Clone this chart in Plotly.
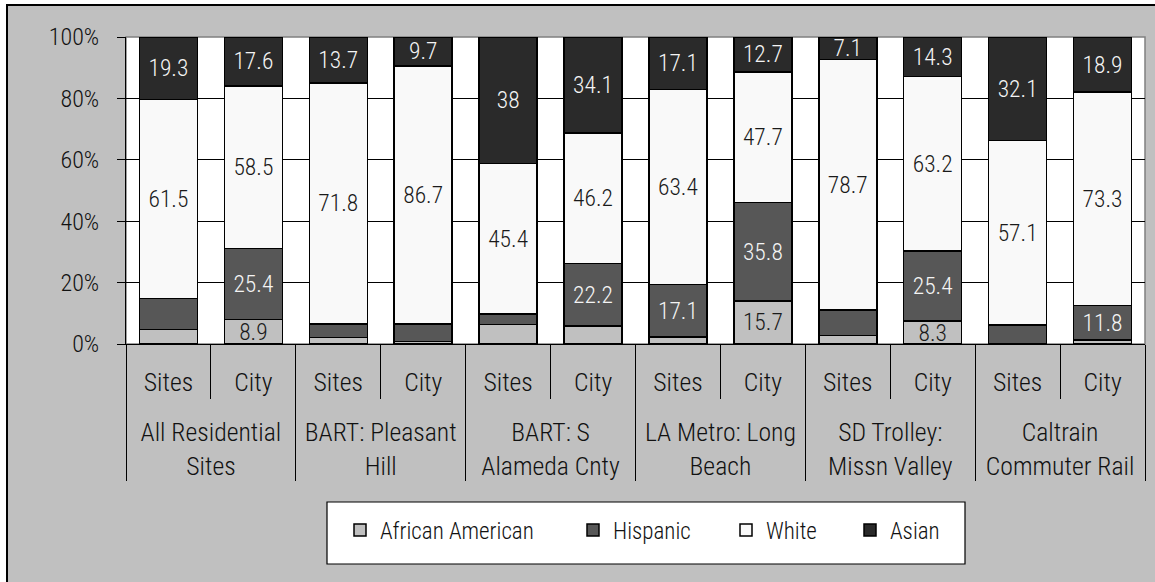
import plotly.graph_objects as go

# Station areas and the two comparison rows in each.
# Group labels start with an empty line so they sit below the Sites/City row.
groups = ["<br>All Residential<br>Sites", "<br>BART: Pleasant<br>Hill", "<br>BART: S<br>Alameda Cnty",
          "<br>LA Metro: Long<br>Beach", "<br>SD Trolley:<br>Missn Valley", "<br>Caltrain<br>Commuter Rail"]
subs = ["Sites", "City"]

# Share of population by group (percent), one value per Sites/City bar
african_american = [4.5, 8.9, 2.0, 0.8, 5.9, 6.4, 2.3, 15.7, 2.7, 8.3, 0.0, 1.4]
hispanic = [9.5, 25.4, 4.0, 6.0, 3.1, 22.2, 17.1, 35.8, 8.0, 25.4, 5.9, 11.8]
white = [61.5, 58.5, 71.8, 86.7, 45.4, 46.2, 63.4, 47.7, 78.7, 63.2, 57.1, 73.3]
asian = [19.3, 17.6, 13.7, 9.7, 38, 34.1, 17.1, 12.7, 7.1, 14.3, 32.1, 18.9]

# Which segments carry a printed value
aa_labeled = [0, 1, 0, 0, 0, 0, 0, 1, 0, 1, 0, 0]
hisp_labeled = [0, 1, 0, 0, 0, 1, 1, 1, 0, 1, 0, 1]
white_labeled = [1] * 12
asian_labeled = [1] * 12

y_ticks = [0, 20, 40, 60, 80, 100]
y_tick_text = ["0%", "20%", "40%", "60%", "80%", "100%"]

FONT = "Roboto Condensed, Liberation Sans Narrow, Arial Narrow, sans-serif"

x_cat = [[g for g in groups for _ in subs], [s for _ in groups for s in subs]]

series = [
    ("African American", african_american, aa_labeled, "#C0C0C0", "#1a1a1a", "legend"),
    ("Hispanic", hispanic, hisp_labeled, "#575757", "#f4f4f4", "legend2"),
    ("White", white, white_labeled, "#F9F9F9", "#1a1a1a", "legend3"),
    ("Asian", asian, asian_labeled, "#2A2A2A", "#f4f4f4", "legend4"),
]

fig = go.Figure()
for name, vals, flags, color, tcolor, leg in series:
    fig.add_trace(go.Bar(
        x=x_cat, y=vals, name=name, legend=leg,
        text=[f"{v:g}" if f else "" for v, f in zip(vals, flags)],
        textposition="inside", insidetextanchor="middle", textangle=0,
        constraintext="none",
        textfont=dict(family=FONT, size=23.5, weight=300, color=tcolor),
        marker=dict(color=color, line=dict(color="#000000", width=1.5)),
    ))

# Pixel geometry helpers for paper-referenced shapes
W, H = 1155, 582
L, R, T, B = 126, 10, 37, 238
pw, ph = W - L - R, H - T - B


def px(x):
    return (x - L) / pw


def py(y):
    return (H - B - y) / ph


shapes = [
    # white strip outside the chart frame
    dict(type="rect", xref="paper", yref="paper", x0=px(-20), x1=px(6), y0=py(600), y1=py(-20),
         fillcolor="white", line=dict(width=0), layer="below"),
    dict(type="rect", xref="paper", yref="paper", x0=px(-20), x1=px(1180), y0=py(4), y1=py(-20),
         fillcolor="white", line=dict(width=0), layer="below"),
    # chart frame
    dict(type="rect", xref="paper", yref="paper", x0=px(7), x1=px(1170), y0=py(600), y1=py(5),
         fillcolor="rgba(0,0,0,0)", line=dict(color="#000000", width=2), layer="below"),
    # plot area border
    dict(type="rect", xref="paper", yref="paper", x0=0, x1=1, y0=0, y1=1,
         fillcolor="rgba(0,0,0,0)", line=dict(color="#808080", width=1.5), layer="below"),
    # legend box
    dict(type="rect", xref="paper", yref="paper", x0=px(327), x1=px(965), y0=py(564), y1=py(502),
         fillcolor="white", line=dict(color="#000000", width=1.2), layer="above"),
]

legend_common = dict(orientation="h", yanchor="middle", y=py(530), xanchor="left",
                     bgcolor="rgba(0,0,0,0)", borderwidth=0,
                     font=dict(family=FONT, size=23, weight=300, color="#111111"))

fig.update_layout(
    width=W, height=H,
    margin=dict(l=L, r=R, t=T, b=B, pad=0),
    paper_bgcolor="#C0C0C0", plot_bgcolor="#FFFFFF",
    barmode="stack", barnorm="percent", bargap=0.317,
    font=dict(family=FONT, size=23, color="#111111"),
    shapes=shapes,
    showlegend=True,
    legend=dict(x=px(340), **legend_common),
    legend2=dict(x=px(573), **legend_common),
    legend3=dict(x=px(726), **legend_common),
    legend4=dict(x=px(850), **legend_common),
    xaxis=dict(
        type="multicategory", showdividers=True, dividercolor="#000000", dividerwidth=1,
        ticks="outside", tickson="boundaries", ticklen=54, tickcolor="#000000", tickwidth=1,
        showline=True, linecolor="#000000", linewidth=1, showgrid=False,
        tickfont=dict(family=FONT, size=25.7, weight=300, color="#111111"),
        ticklabelstandoff=15,
    ),
    yaxis=dict(
        range=[0, 100], tickvals=y_ticks, ticktext=y_tick_text,
        ticks="outside", ticklen=8, tickcolor="#000000", tickwidth=1,
        showline=True, linecolor="#000000", linewidth=1,
        showgrid=True, gridcolor="#000000", gridwidth=1, zeroline=False,
        tickfont=dict(family=FONT, size=24, weight=300, color="#111111"),
        ticklabelstandoff=13,
    ),
)

fig.write_html("out.html")
